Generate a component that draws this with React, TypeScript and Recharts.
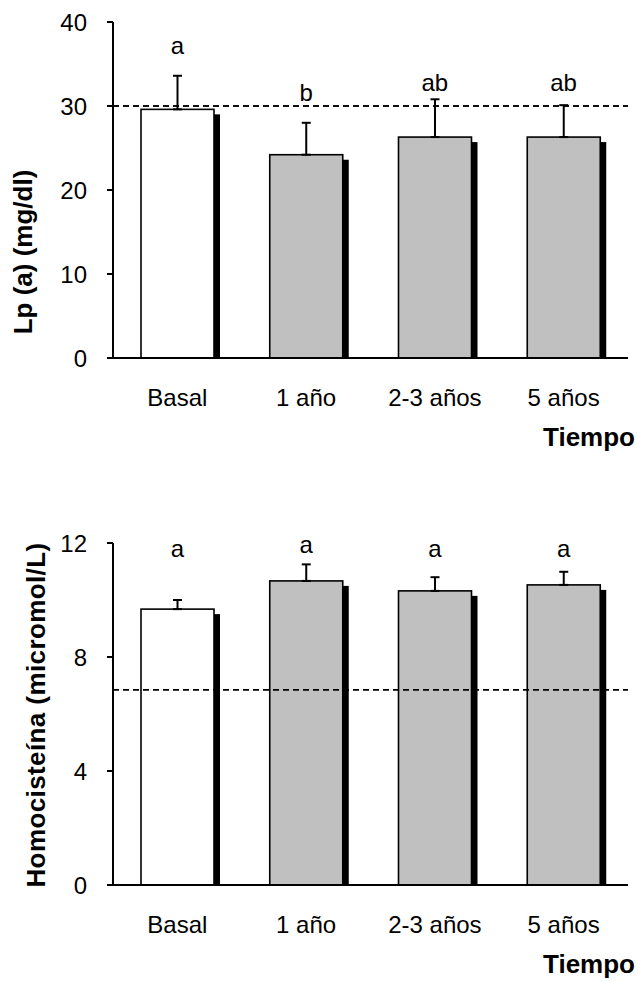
import React from 'react';
import { ComposedChart, Bar, Line, XAxis, YAxis, ErrorBar, ReferenceLine, LabelList } from 'recharts';

const categories = ['Basal', '1 año', '2-3 años', '5 años'];

// Lp (a) panel
const lpaMeans = [29.6, 24.2, 26.3, 26.3];
const lpaSem = [4.0, 3.8, 4.5, 3.8];
const lpaLetters = ['a', 'b', 'ab', 'ab'];
const lpaLetterPos = [36.2, 30.6, 31.8, 31.8];
const lpaTicks = [0, 10, 20, 30, 40];
const lpaCutoff = 30;

// Homocisteína panel
const hcyMeans = [9.68, 10.67, 10.32, 10.53];
const hcySem = [0.32, 0.58, 0.48, 0.46];
const hcyLetters = ['a', 'a', 'a', 'a'];
const hcyLetterPos = [11.52, 11.65, 11.51, 11.52];
const hcyTicks = [0, 4, 8, 12];
const hcyCutoff = 6.85;

const barFills = ['#ffffff', '#c0c0c0', '#c0c0c0', '#c0c0c0'];
const FONT = '"Liberation Sans", Arial, sans-serif';
const CHART_W = 638;
const MARGIN_R = 10;
const Y_AXIS_WIDTH = 113;
const DASH = '6 4';

// bar with a drop shadow on the right
const BarShape = (props: any) => {
  const { x, y, width, height, index } = props;
  const top = Math.min(y, y + height);
  const h = Math.abs(height);
  return (
    <g>
      <rect x={x + 6} y={top + 5} width={width} height={Math.max(h - 5, 0)} fill="#000" />
      <rect x={x} y={top} width={width} height={h} fill={barFills[index]} stroke="#000" strokeWidth={1.6} />
    </g>
  );
};

const CatTick = (props: any) => {
  const { x, y, payload } = props;
  return (
    <text x={x} y={y + 46} textAnchor="middle" fontFamily={FONT} fontSize={24} fill="#000">
      {payload.value}
    </text>
  );
};

const ValTick = (props: any) => {
  const { x, y, payload } = props;
  return (
    <text x={x - 18} y={y} dy="0.36em" textAnchor="end" fontFamily={FONT} fontSize={24} fill="#000">
      {payload.value}
    </text>
  );
};

// letters sit in the line layer, which is above the bars, so the cutoff line
// is repeated here to show through the bars like in the original
const makeLetterLabel = (cutoffY: number) => (props: any) => {
  const { x, y, value, index } = props;
  return (
    <g>
      {index === 0 && (
        <line
          x1={Y_AXIS_WIDTH}
          x2={CHART_W - MARGIN_R}
          y1={cutoffY}
          y2={cutoffY}
          stroke="#000"
          strokeWidth={1.6}
          strokeDasharray={DASH}
        />
      )}
      <text x={x} y={y} textAnchor="middle" fontFamily={FONT} fontSize={24} fill="#000">
        {value}
      </text>
    </g>
  );
};

interface PanelProps {
  means: number[];
  sem: number[];
  letters: string[];
  letterPos: number[];
  ticks: number[];
  cutoff: number;
  yLabel: string;
  yLabelX: number;
  yLabelY: number;
  yLabelSpacing: number;
  height: number;
  marginTop: number;
  xAxisHeight: number;
}

function Panel(p: PanelProps) {
  const data = categories.map((name, i) => ({
    name,
    mean: p.means[i],
    err: [0, p.sem[i]],
    letter: p.letters[i],
    letterPos: p.letterPos[i],
  }));
  const plotBottom = p.height - p.xAxisHeight;
  const plotHeight = plotBottom - p.marginTop;
  const yMax = p.ticks[p.ticks.length - 1];
  const cutoffY = plotBottom - (p.cutoff / yMax) * plotHeight;
  const LetterLabel = makeLetterLabel(cutoffY);
  return (
    <ComposedChart
      width={CHART_W}
      height={p.height}
      data={data}
      margin={{ top: p.marginTop, right: MARGIN_R, bottom: 0, left: 0 }}
    >
      <XAxis
        dataKey="name"
        height={p.xAxisHeight}
        axisLine={{ stroke: '#000', strokeWidth: 2 }}
        tickLine={false}
        tickSize={0}
        tick={<CatTick />}
        label={() => (
          <text x={635} y={plotBottom + 88} textAnchor="end" fontFamily={FONT} fontSize={26} fontWeight="bold" fill="#000">
            Tiempo
          </text>
        )}
      />
      <YAxis
        width={Y_AXIS_WIDTH}
        domain={[p.ticks[0], yMax]}
        ticks={p.ticks}
        axisLine={{ stroke: '#000', strokeWidth: 2 }}
        tickLine={{ stroke: '#000', strokeWidth: 2 }}
        tickSize={6}
        tick={<ValTick />}
        label={() => (
          <text
            x={p.yLabelX}
            y={p.yLabelY}
            transform={`rotate(-90 ${p.yLabelX} ${p.yLabelY})`}
            textAnchor="middle"
            fontFamily={FONT}
            fontSize={26}
            fontWeight="bold"
            letterSpacing={p.yLabelSpacing}
            fill="#000"
          >
            {p.yLabel}
          </text>
        )}
      />
      <ReferenceLine y={p.cutoff} stroke="#000" strokeWidth={1.6} strokeDasharray={DASH} />
      <Bar dataKey="mean" barSize={73} shape={BarShape} isAnimationActive={false}>
        <ErrorBar dataKey="err" width={4.5} stroke="#000" strokeWidth={2} direction="y" isAnimationActive={false} />
      </Bar>
      <Line dataKey="letterPos" stroke="none" dot={false} activeDot={false} isAnimationActive={false}>
        <LabelList dataKey="letter" content={LetterLabel} />
      </Line>
    </ComposedChart>
  );
}

export default function App() {
  return (
    <div style={{ position: 'absolute', left: 0, top: 0, width: 638, height: 981, background: '#fff' }}>
      <div style={{ position: 'absolute', left: 0, top: 0 }}>
        <Panel
          means={lpaMeans}
          sem={lpaSem}
          letters={lpaLetters}
          letterPos={lpaLetterPos}
          ticks={lpaTicks}
          cutoff={lpaCutoff}
          yLabel="Lp (a) (mg/dl)"
          yLabelX={32}
          yLabelY={252}
          yLabelSpacing={0}
          height={470}
          marginTop={22}
          xAxisHeight={112}
        />
      </div>
      <div style={{ position: 'absolute', left: 0, top: 470 }}>
        <Panel
          means={hcyMeans}
          sem={hcySem}
          letters={hcyLetters}
          letterPos={hcyLetterPos}
          ticks={hcyTicks}
          cutoff={hcyCutoff}
          yLabel="Homocisteína (micromol/L)"
          yLabelX={45}
          yLabelY={245}
          yLabelSpacing={0.4}
          height={511}
          marginTop={73}
          xAxisHeight={96}
        />
      </div>
    </div>
  );
}
